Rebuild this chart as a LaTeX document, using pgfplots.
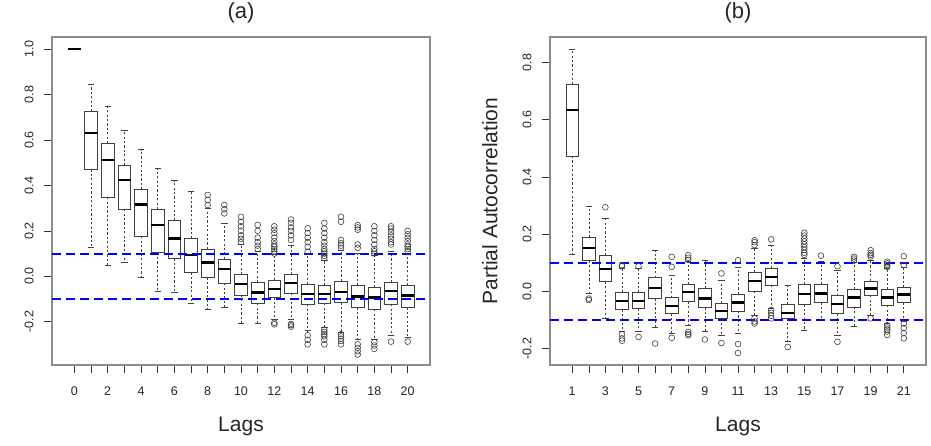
\documentclass[border=0pt]{standalone}
\usepackage{fontspec}
\setmainfont{Liberation Sans}
\usepackage{pgfplots}
\pgfplotsset{compat=1.18}
\usepgfplotslibrary{statistics}

\pgfplotsset{
  rbox/.style={
    boxplot/draw direction=y,
    boxplot/box extend=0.76,
    boxplot/whisker extend=0.38,
    boxplot/every box/.style={draw=black!75, line width=0.7pt},
    boxplot/every median/.style={draw=black, line width=2.4pt},
    boxplot/draw/lower whisker/.code={%
      \draw[black!75, line width=0.6pt, dash pattern=on 2.2pt off 2.2pt]
        (boxplot cs:\pgfplotsboxplotvalue{lower quartile}) --
        (boxplot cs:\pgfplotsboxplotvalue{lower whisker});
      \draw[black!75, line width=0.7pt]
        (boxplot whisker cs:\pgfplotsboxplotvalue{lower whisker},0) --
        (boxplot whisker cs:\pgfplotsboxplotvalue{lower whisker},1);
    },
    boxplot/draw/upper whisker/.code={%
      \draw[black!75, line width=0.6pt, dash pattern=on 2.2pt off 2.2pt]
        (boxplot cs:\pgfplotsboxplotvalue{upper quartile}) --
        (boxplot cs:\pgfplotsboxplotvalue{upper whisker});
      \draw[black!75, line width=0.7pt]
        (boxplot whisker cs:\pgfplotsboxplotvalue{upper whisker},0) --
        (boxplot whisker cs:\pgfplotsboxplotvalue{upper whisker},1);
    },
    mark=o, mark size=2.9pt,
    mark options={draw=black!75, line width=0.6pt, solid},
  },
  rax/.style={
    anchor=south west, scale only axis, height=328pt,
    axis line style={draw=black!45, line width=1.1pt},
    tick style={draw=black!80, line width=0.6pt},
    tick align=outside, xtick pos=bottom, ytick pos=left,
    major tick length=8pt,
    ticklabel style={font=\fontsize{12.5}{14}\selectfont, text=black!85},
    yticklabel style={rotate=90, anchor=south},
    xticklabel shift=10pt,
    yticklabel shift=7pt,
    xlabel={Lags},
    label style={font=\fontsize{21}{24}\selectfont, text=black!85},
    xlabel style={at={(axis description cs:0.5,-0.186)}, anchor=center},
    ylabel style={at={(axis description cs:-0.160,0.5)}, anchor=center},
    clip=false,
  },
  bluel/.style={blue, line width=2pt, dash pattern=on 9pt off 5pt},
}

\newcommand{\rbox}[7]{%
  \addplot[rbox, boxplot prepared={draw position=#1, lower whisker=#2,
    lower quartile=#3, median=#4, upper quartile=#5, upper whisker=#6}]
    coordinates {#7};}

\begin{document}
\begin{tikzpicture}
% ---------------- (a) ACF ----------------
\begin{axis}[rax,
  at={(52pt,81pt)}, width=378pt,
  xmin=-1.34, xmax=21.34, ymin=-0.391, ymax=1.054,
  xtick={0,...,20},
  xticklabels={0,,2,,4,,6,,8,,10,,12,,14,,16,,18,,20},
  ytick={-0.2,0,0.2,0.4,0.6,0.8,1.0},
  yticklabels={-0.2,0.0,0.2,0.4,0.6,0.8,1.0},
  ylabel={Autocorrelation},
]
\rbox{0}{1}{1}{1}{1}{1}{}
\rbox{1}{0.126}{0.471}{0.630}{0.725}{0.846}{}
\rbox{2}{0.047}{0.348}{0.512}{0.586}{0.749}{}
\rbox{3}{0.062}{0.295}{0.424}{0.489}{0.642}{}
\rbox{4}{-0.004}{0.176}{0.316}{0.383}{0.558}{}
\rbox{5}{-0.065}{0.104}{0.226}{0.295}{0.474}{}
\rbox{6}{-0.072}{0.079}{0.167}{0.245}{0.421}{}
\rbox{7}{-0.119}{0.016}{0.094}{0.167}{0.373}{}
\rbox{8}{-0.148}{-0.006}{0.060}{0.120}{0.300}{(0,0.314) (0,0.336) (0,0.358)}
\rbox{9}{-0.138}{-0.031}{0.031}{0.076}{0.233}{(0,0.277) (0,0.295) (0,0.314)}
\rbox{10}{-0.207}{-0.082}{-0.034}{0.009}{0.140}{(0,0.150) (0,0.165) (0,0.180) (0,0.200) (0,0.220) (0,0.240) (0,0.262)}
\rbox{11}{-0.207}{-0.119}{-0.072}{-0.026}{0.110}{(0,0.120) (0,0.135) (0,0.150) (0,0.170) (0,0.200) (0,0.226)}
\rbox{12}{-0.190}{-0.093}{-0.056}{-0.016}{0.095}{(0,0.100) (0,0.110) (0,0.120) (0,0.130) (0,0.140) (0,0.155) (0,0.170) (0,0.190) (0,0.205) (0,0.220) (0,-0.205) (0,-0.212)}
\rbox{13}{-0.190}{-0.075}{-0.031}{0.009}{0.135}{(0,0.160) (0,0.180) (0,0.200) (0,0.215) (0,0.235) (0,0.250) (0,-0.210) (0,-0.215) (0,-0.222)}
\rbox{14}{-0.240}{-0.123}{-0.078}{-0.035}{0.097}{(0,0.108) (0,0.130) (0,0.150) (0,0.170) (0,0.190) (0,0.211) (0,-0.260) (0,-0.280) (0,-0.300)}
\rbox{15}{-0.225}{-0.119}{-0.078}{-0.041}{0.070}{(0,0.080) (0,0.090) (0,0.100) (0,0.110) (0,0.120) (0,0.135) (0,0.150) (0,0.170) (0,0.190) (0,0.210) (0,0.235) (0,-0.235) (0,-0.245) (0,-0.255) (0,-0.265) (0,-0.280) (0,-0.300)}
\rbox{16}{-0.245}{-0.116}{-0.070}{-0.021}{0.115}{(0,0.125) (0,0.135) (0,0.145) (0,0.160) (0,0.240) (0,0.262) (0,-0.255) (0,-0.265) (0,-0.275) (0,-0.285) (0,-0.300)}
\rbox{17}{-0.280}{-0.138}{-0.090}{-0.040}{0.100}{(0,0.125) (0,0.140) (0,0.205) (0,0.215) (0,0.225) (0,-0.300) (0,-0.315) (0,-0.330) (0,-0.345)}
\rbox{18}{-0.280}{-0.145}{-0.094}{-0.050}{0.090}{(0,0.100) (0,0.110) (0,0.120) (0,0.140) (0,0.160) (0,0.180) (0,0.200) (0,0.220) (0,-0.290) (0,-0.305) (0,-0.320)}
\rbox{19}{-0.260}{-0.123}{-0.065}{-0.028}{0.110}{(0,0.140) (0,0.150) (0,0.165) (0,0.180) (0,0.195) (0,0.210) (0,0.220) (0,-0.288)}
\rbox{20}{-0.270}{-0.137}{-0.084}{-0.041}{0.100}{(0,0.110) (0,0.120) (0,0.130) (0,0.140) (0,0.155) (0,0.170) (0,0.185) (0,0.200) (0,-0.288)}
\addplot[bluel] coordinates {(-1.34,0.099) (21.34,0.099)};
\addplot[bluel] coordinates {(-1.34,-0.099) (21.34,-0.099)};
\end{axis}
% ---------------- (b) PACF ----------------
\begin{axis}[rax,
  at={(550pt,81pt)}, width=376pt,
  xmin=-0.34, xmax=22.34, ymin=-0.257, ymax=0.889,
  xtick={1,...,21},
  xticklabels={1,,3,,5,,7,,9,,11,,13,,15,,17,,19,,21},
  ytick={-0.2,0,0.2,0.4,0.6,0.8},
  yticklabels={-0.2,0.0,0.2,0.4,0.6,0.8},
  ylabel={Partial Autocorrelation},
]
\rbox{1}{0.130}{0.473}{0.634}{0.724}{0.846}{}
\rbox{2}{-0.005}{0.107}{0.152}{0.189}{0.299}{(0,-0.025) (0,-0.030)}
\rbox{3}{-0.094}{0.034}{0.078}{0.125}{0.257}{(0,0.294)}
\rbox{4}{-0.140}{-0.063}{-0.033}{-0.004}{0.080}{(0,0.088) (0,0.092) (0,-0.150) (0,-0.164) (0,-0.172)}
\rbox{5}{-0.140}{-0.060}{-0.033}{-0.004}{0.080}{(0,0.088) (0,-0.159)}
\rbox{6}{-0.127}{-0.025}{0.013}{0.048}{0.142}{(0,-0.182)}
\rbox{7}{-0.145}{-0.077}{-0.050}{-0.022}{0.057}{(0,0.086) (0,0.121) (0,-0.162)}
\rbox{8}{-0.118}{-0.036}{-0.001}{0.024}{0.104}{(0,0.110) (0,0.118) (0,0.127) (0,-0.141) (0,-0.148) (0,-0.153)}
\rbox{9}{-0.141}{-0.056}{-0.025}{0.010}{0.109}{(0,-0.168)}
\rbox{10}{-0.155}{-0.094}{-0.069}{-0.042}{0.040}{(0,0.063) (0,-0.180)}
\rbox{11}{-0.145}{-0.068}{-0.038}{-0.009}{0.083}{(0,0.109) (0,-0.184) (0,-0.215)}
\rbox{12}{-0.085}{0.001}{0.037}{0.066}{0.150}{(0,0.162) (0,0.172) (0,0.179) (0,-0.094) (0,-0.105) (0,-0.112)}
\rbox{13}{-0.058}{0.022}{0.051}{0.080}{0.162}{(0,0.182) (0,-0.065) (0,-0.075) (0,-0.085) (0,-0.094)}
\rbox{14}{-0.175}{-0.094}{-0.075}{-0.045}{0.020}{(0,-0.194)}
\rbox{15}{-0.135}{-0.045}{-0.009}{0.024}{0.115}{(0,0.128) (0,0.135) (0,0.145) (0,0.155) (0,0.165) (0,0.175) (0,0.185) (0,0.195) (0,0.205)}
\rbox{16}{-0.100}{-0.038}{-0.007}{0.024}{0.105}{(0,0.125)}
\rbox{17}{-0.155}{-0.077}{-0.044}{-0.015}{0.075}{(0,0.088) (0,-0.176)}
\rbox{18}{-0.121}{-0.054}{-0.021}{0.007}{0.100}{(0,0.108) (0,0.115) (0,0.121)}
\rbox{19}{-0.085}{-0.013}{0.010}{0.037}{0.110}{(0,0.122) (0,0.128) (0,0.134) (0,0.144) (0,-0.094)}
\rbox{20}{-0.110}{-0.048}{-0.021}{0.007}{0.080}{(0,0.086) (0,0.092) (0,0.098) (0,0.104) (0,-0.118) (0,-0.126) (0,-0.133) (0,-0.140) (0,-0.152)}
\rbox{21}{-0.105}{-0.038}{-0.010}{0.014}{0.085}{(0,0.092) (0,0.123) (0,-0.112) (0,-0.128) (0,-0.145) (0,-0.164)}
\addplot[bluel] coordinates {(-0.34,0.1) (22.34,0.1)};
\addplot[bluel] coordinates {(-0.34,-0.099) (22.34,-0.099)};
\end{axis}
\node[font=\fontsize{22}{26}\selectfont, text=black!85] at (241pt,433pt) {(a)};
\node[font=\fontsize{22}{26}\selectfont, text=black!85] at (738pt,433pt) {(b)};
\pgfresetboundingbox
\path[use as bounding box] (0,0) rectangle (931pt,446pt);
\end{tikzpicture}
\end{document}
